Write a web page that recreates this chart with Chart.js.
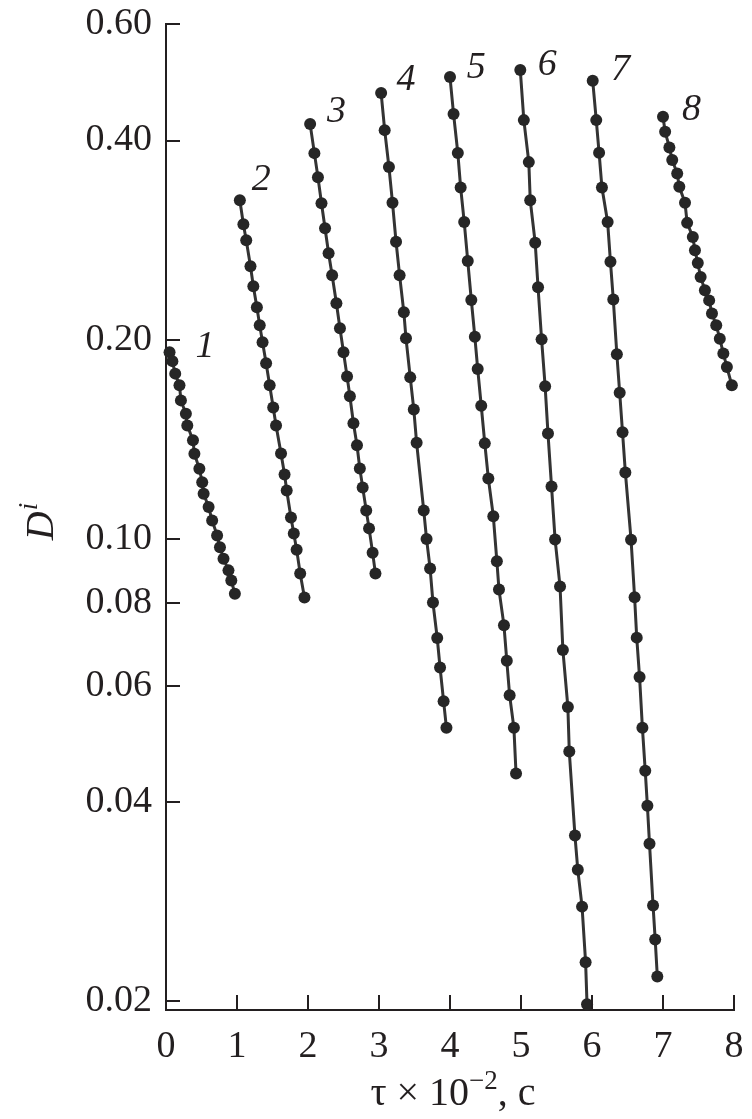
<!DOCTYPE html>
<html>
<head>
<meta charset="utf-8">
<script src="https://cdn.jsdelivr.net/npm/chart.js@4.4.1/dist/chart.umd.min.js"></script>
<style>
html,body{margin:0;padding:0;background:#fff;}
#wrap{width:752px;height:1119px;}
</style>
</head>
<body>
<div id="wrap"><canvas id="c" width="752" height="1119"></canvas></div>
<script>
// ---- data ----
const seriesNames = ['1','2','3','4','5','6','7','8'];
const xTickValues = [0,1,2,3,4,5,6,7,8];
const yTickValues = [0.02,0.04,0.06,0.08,0.10,0.20,0.40,0.60];
const yTickLabels = ['0.02','0.04','0.06','0.08','0.10','0.20','0.40','0.60'];

const s1x = [0.05,0.09,0.13,0.19,0.21,0.28,0.30,0.38,0.40,0.47,0.51,0.53,0.60,0.65,0.72,0.76,0.81,0.88,0.92,0.97];
const s1y = [0.1915,0.1856,0.1777,0.1706,0.1619,0.1545,0.1484,0.1409,0.1345,0.1276,0.1218,0.1170,0.1117,0.1066,0.1012,0.0971,0.0933,0.0896,0.0865,0.0826];
const s2x = [1.04,1.09,1.13,1.19,1.23,1.28,1.32,1.36,1.41,1.46,1.51,1.55,1.62,1.67,1.70,1.76,1.80,1.84,1.89,1.95];
const s2y = [0.3250,0.2989,0.2827,0.2582,0.2409,0.2239,0.2102,0.1982,0.1842,0.1706,0.1580,0.1484,0.1346,0.1251,0.1183,0.1077,0.1019,0.0963,0.0886,0.0815];
const s3x = [2.03,2.09,2.14,2.19,2.24,2.29,2.34,2.40,2.45,2.50,2.55,2.59,2.64,2.69,2.73,2.77,2.82,2.86,2.91,2.95];
const s3y = [0.4235,0.3828,0.3521,0.3216,0.2948,0.2702,0.2503,0.2270,0.2081,0.1914,0.1760,0.1642,0.1495,0.1385,0.1277,0.1196,0.1104,0.1037,0.0953,0.0886];
const s4x = [3.03,3.08,3.14,3.19,3.24,3.29,3.35,3.38,3.44,3.49,3.53,3.63,3.67,3.72,3.76,3.82,3.86,3.91,3.95];
const s4y = [0.4718,0.4147,0.3647,0.3222,0.2812,0.2503,0.2200,0.2010,0.1754,0.1569,0.1397,0.1104,0.0999,0.0902,0.0801,0.0708,0.0639,0.0568,0.0518];
const s5x = [4.00,4.05,4.11,4.15,4.20,4.25,4.30,4.35,4.39,4.44,4.49,4.54,4.61,4.66,4.69,4.76,4.80,4.84,4.90,4.93];
const s5y = [0.4988,0.4387,0.3831,0.3396,0.3013,0.2630,0.2296,0.2020,0.1806,0.1589,0.1394,0.1234,0.1082,0.0925,0.0838,0.0740,0.0654,0.0580,0.0518,0.0442];
const s6x = [4.99,5.04,5.11,5.13,5.20,5.24,5.29,5.34,5.38,5.43,5.48,5.55,5.59,5.66,5.68,5.76,5.80,5.86,5.91,5.93];
const s6y = [0.5111,0.4294,0.3710,0.3250,0.2802,0.2400,0.2002,0.1700,0.1443,0.1200,0.0998,0.0847,0.0679,0.0557,0.0477,0.0356,0.0316,0.0278,0.0229,0.0198];
const s7x = [6.01,6.06,6.10,6.14,6.22,6.26,6.30,6.35,6.39,6.43,6.47,6.55,6.60,6.63,6.67,6.71,6.75,6.78,6.81,6.86,6.89,6.92];
const s7y = [0.4924,0.4294,0.3832,0.3396,0.3013,0.2622,0.2300,0.1901,0.1663,0.1449,0.1260,0.0997,0.0816,0.0709,0.0618,0.0518,0.0446,0.0395,0.0346,0.0279,0.0248,0.0218];
const s8x = [7.00,7.03,7.09,7.13,7.20,7.23,7.31,7.34,7.42,7.45,7.49,7.53,7.59,7.65,7.69,7.75,7.80,7.85,7.90,7.97];
const s8y = [0.4345,0.4123,0.3905,0.3737,0.3565,0.3405,0.3220,0.3003,0.2860,0.2731,0.2612,0.2488,0.2375,0.2293,0.2190,0.2102,0.2007,0.1906,0.1818,0.1706];

// curve-number label anchors (data coordinates)
const labelX = [0.55,1.34,2.40,3.38,4.37,5.37,6.40,7.40];
const labelY = [0.195,0.349,0.442,0.494,0.515,0.521,0.511,0.445];

const allX = [s1x,s2x,s3x,s4x,s5x,s6x,s7x,s8x];
const allY = [s1y,s2y,s3y,s4y,s5y,s6y,s7y,s8y];

const INK = '#231f20';
const SERIF = '"Liberation Serif","Times New Roman",serif';

const datasets = allX.map((xs,i)=>({
  label: seriesNames[i],
  data: xs.map((x,k)=>({x:x, y:allY[i][k]})),
  showLine: true,
  borderColor: '#333333',
  borderWidth: 3,
  pointRadius: 6,
  pointBackgroundColor: '#262626',
  pointBorderColor: '#262626',
  pointBorderWidth: 0,
  clip: false
}));

const decorPlugin = {
  id: 'decor',
  afterDraw(chart){
    const ctx = chart.ctx;
    const xs = chart.scales.x, ys = chart.scales.y;
    const ca = chart.chartArea;
    ctx.save();
    ctx.strokeStyle = INK;
    ctx.lineWidth = 2;
    yTickValues.forEach(v=>{
      const py = Math.round(ys.getPixelForValue(v));
      ctx.beginPath(); ctx.moveTo(ca.left-1, py); ctx.lineTo(ca.left+14, py); ctx.stroke();
    });
    xTickValues.forEach(v=>{
      const px = Math.round(xs.getPixelForValue(v));
      ctx.beginPath(); ctx.moveTo(px, ca.bottom); ctx.lineTo(px, ca.bottom-15); ctx.stroke();
    });
    ctx.fillStyle = INK;
    ctx.font = 'italic 38px '+SERIF;
    ctx.textAlign = 'center';
    ctx.textBaseline = 'middle';
    seriesNames.forEach((n,i)=>{
      ctx.fillText(n, xs.getPixelForValue(labelX[i]), ys.getPixelForValue(labelY[i]));
    });
    const big = '40px '+SERIF, small = '27px '+SERIF;
    const parts = [['τ × 10', big, 0], ['−2', small, -16], [', c', big, 0]];
    ctx.textAlign = 'left';
    ctx.textBaseline = 'alphabetic';
    let w = 0;
    parts.forEach(p=>{ ctx.font = p[1]; w += ctx.measureText(p[0]).width; });
    let cx = (ca.left+ca.right)/2 - w/2 + 3;
    const by = ca.bottom + 95;
    parts.forEach(p=>{ ctx.font = p[1]; ctx.fillText(p[0], cx, by + p[2]); cx += ctx.measureText(p[0]).width; });
    ctx.save();
    ctx.translate(40, (ca.top+ca.bottom)/2 + 5);
    ctx.rotate(-Math.PI/2);
    ctx.font = 'italic 40px '+SERIF;
    const wd = ctx.measureText('D').width;
    ctx.font = 'italic 27px '+SERIF;
    const wi = ctx.measureText('i').width;
    let ux = -(wd+wi)/2;
    ctx.font = 'italic 40px '+SERIF;
    ctx.fillText('D', ux, 13);
    ctx.font = 'italic 27px '+SERIF;
    ctx.fillText('i', ux+wd+1, -3);
    ctx.restore();
    ctx.restore();
  }
};

Chart.defaults.font.family = SERIF;
Chart.defaults.font.size = 38;
Chart.defaults.color = INK;

new Chart(document.getElementById('c'), {
  type: 'scatter',
  data: { datasets },
  options: {
    responsive: false,
    animation: false,
    devicePixelRatio: 1,
    layout: { padding: { top: 24, right: 18, left: 0, bottom: 0 } },
    plugins: { legend: { display: false }, tooltip: { enabled: false } },
    scales: {
      x: {
        type: 'linear', min: 0, max: 8,
        afterBuildTicks: (s)=>{ s.ticks = xTickValues.map(v=>({value:v})); },
        afterFit: (s)=>{ s.height = 109; s.paddingLeft = 0; s.paddingRight = 0; },
        grid: { display: true, drawOnChartArea: false, drawTicks: false },
        border: { display: true, color: INK, width: 2 },
        ticks: { padding: 14, color: INK, font: { size: 38, family: SERIF }, maxRotation: 0, callback: (v)=>String(v) }
      },
      y: {
        type: 'logarithmic', min: 0.0194, max: 0.6,
        afterBuildTicks: (s)=>{ s.ticks = yTickValues.map(v=>({value:v})); },
        afterFit: (s)=>{ s.width = 166; s.paddingTop = 0; s.paddingBottom = 0; },
        grid: { display: true, drawOnChartArea: false, drawTicks: false },
        border: { display: true, color: INK, width: 2 },
        ticks: { padding: 14, color: INK, font: { size: 38, family: SERIF }, callback: (v,i)=>yTickLabels[i] }
      }
    }
  },
  plugins: [decorPlugin]
});
</script>
</body>
</html>
